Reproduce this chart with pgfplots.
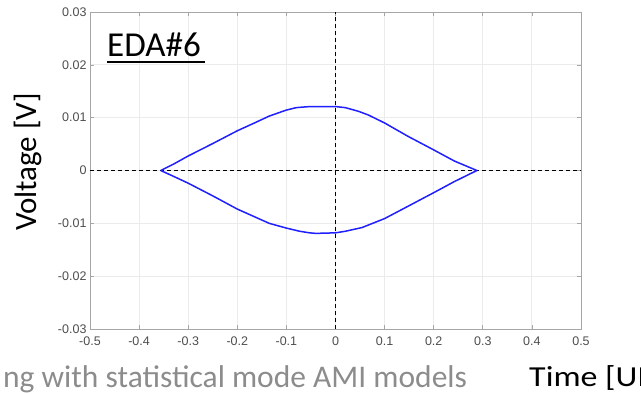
\documentclass[border=0pt]{standalone}
\usepackage{pgfplots}
\pgfplotsset{compat=1.18}
\usepackage{fontspec}
\setmainfont{Liberation Sans}
\newfontfamily\calibri{Carlito}
\definecolor{axgray}{HTML}{A6A6A6}
\definecolor{tickgray}{HTML}{4D4D4D}
\definecolor{gridgray}{HTML}{EBEBEB}
\definecolor{curveblue}{HTML}{2020FF}
\definecolor{slidegray}{HTML}{8C8C8C}
\begin{document}
\begin{tikzpicture}[x=1pt,y=1pt]
\useasboundingbox (0,0) rectangle (641,394);
\clip (0,0) rectangle (641,394);
\begin{axis}[
  at={(90pt,65pt)}, anchor=south west,
  scale only axis, width=491pt, height=317pt,
  xmin=-0.5, xmax=0.5, ymin=-0.03, ymax=0.03,
  scaled ticks=false,
  xtick={-0.5,-0.4,-0.3,-0.2,-0.1,0,0.1,0.2,0.3,0.4,0.5},
  xticklabels={-0.5,-0.4,-0.3,-0.2,-0.1,0,0.1,0.2,0.3,0.4,0.5},
  ytick={-0.03,-0.02,-0.01,0,0.01,0.02,0.03},
  yticklabels={-0.03,-0.02,-0.01,0,0.01,0.02,0.03},
  tick label style={font=\fontsize{12.5}{14}\selectfont, text=tickgray},
  xticklabel style={yshift=-4pt},
  /pgf/number format/assume math mode=true,
  axis line style={axgray, line width=0.8pt},
  tick style={axgray, line width=0.6pt},
  tick align=inside, major tick length=4pt,
  grid=major, major grid style={gridgray, line width=0.8pt},
  axis background/.style={fill=white},
]
\addplot[black, line width=1.1pt, dash pattern=on 4pt off 3pt] coordinates {(-0.5,0) (0.5,0)};
\addplot[black, line width=1.1pt, dash pattern=on 4pt off 3pt] coordinates {(0,-0.03) (0,0.03)};
\addplot[curveblue, line width=1.5pt, line join=round] coordinates {
(-0.356,0) (-0.33,0.0012) (-0.3,0.00275) (-0.25,0.0051) (-0.2,0.00752) (-0.165,0.0090) (-0.135,0.0103)
(-0.1,0.01144) (-0.08,0.0119) (-0.053,0.0121) (-0.04,0.0121) (0,0.0121) (0.02,0.0119)
(0.047,0.0112) (0.067,0.0105) (0.1,0.0090) (0.147,0.0065) (0.2,0.0039) (0.242,0.0018) (0.288,0)
(0.242,-0.0021) (0.2,-0.0042) (0.147,-0.0068) (0.1,-0.0091) (0.054,-0.0108) (0.02,-0.0115)
(0,-0.0118) (-0.04,-0.0119) (-0.053,-0.0118) (-0.073,-0.0115) (-0.1,-0.0109) (-0.135,-0.0100)
(-0.2,-0.0073) (-0.25,-0.0048) (-0.3,-0.0024) (-0.33,-0.0011) (-0.356,0)
};
\end{axis}
\node[rotate=90, anchor=center, font=\calibri\fontsize{31}{36}\selectfont] at (28,232) {Voltage [V]};
\node[anchor=base west, inner sep=0pt, font=\calibri\fontsize{35}{40}\selectfont] at (107,337.3) {EDA\#6};
\draw[black, line width=2pt] (107,332) -- (205,332);
\node[anchor=base west, inner sep=0pt, xscale=1.17, font=\calibri\fontsize{29}{34}\selectfont] at (529,7.3) {Time [UI]};
\node[anchor=base west, inner sep=0pt, text=slidegray, font=\calibri\fontsize{31.5}{36}\selectfont] at (3,6) {ng with statistical mode AMI models};
\end{tikzpicture}
\end{document}
